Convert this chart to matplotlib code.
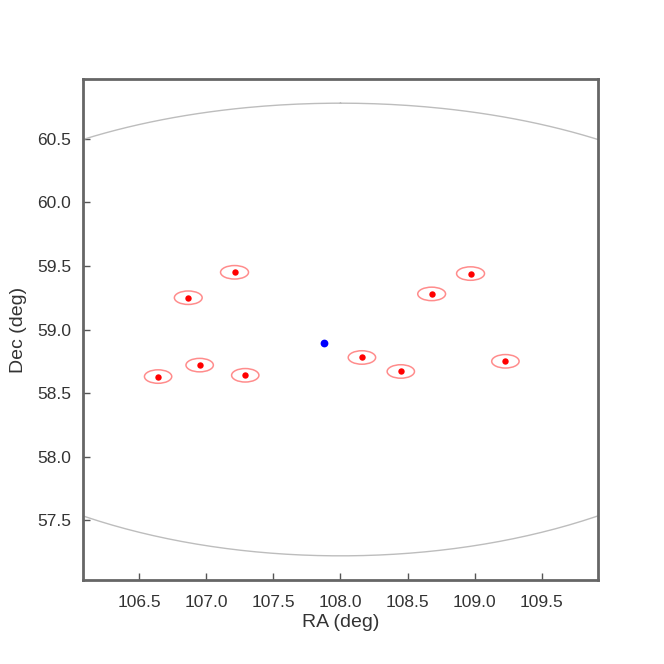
import numpy as np
import matplotlib.pyplot as plt
from matplotlib.patches import Ellipse

plt.rcParams['font.family'] = ['Liberation Sans', 'DejaVu Sans']

# pointing centre and field radius (deg)
field_ra, field_dec, field_r = 108.0, 59.0, 1.78

# target (blue)
target_ra = [107.88]
target_dec = [58.89]

# sources (red)
src_ra = [107.21, 106.865, 106.95, 106.64, 107.29, 108.16, 108.45, 108.68, 108.97, 109.23]
src_dec = [59.45, 59.25, 58.72, 58.63, 58.64, 58.78, 58.67, 59.28, 59.44, 58.75]
src_err = 0.053  # error radius (deg)

xticks = [106.5, 107.0, 107.5, 108.0, 108.5, 109.0, 109.5]
yticks = [57.5, 58.0, 58.5, 59.0, 59.5, 60.0, 60.5]

fig = plt.figure(figsize=(6.64, 6.64), dpi=100)
ax = fig.add_axes([0.125, 0.1265, 0.7755, 0.7545])

# field circle on the sky
th = np.linspace(0, 2 * np.pi, 721)
d0, r = np.radians(field_dec), np.radians(field_r)
dec = np.arcsin(np.sin(d0) * np.cos(r) + np.cos(d0) * np.sin(r) * np.cos(th))
dra = np.arctan2(np.sin(th) * np.sin(r) * np.cos(d0), np.cos(r) - np.sin(d0) * np.sin(dec))
ax.plot(field_ra + np.degrees(dra), np.degrees(dec), color='#bdbdbd', lw=1)

# error ellipses
for ra, de in zip(src_ra, src_dec):
    w = 2 * src_err / np.cos(np.radians(de))
    ax.add_patch(Ellipse((ra, de), w, 2 * src_err, fill=False,
                         edgecolor='#ff7070', lw=1.1, alpha=0.8))

ax.plot(src_ra, src_dec, 'o', color='red', ms=4.6, mec='none')
ax.plot(target_ra, target_dec, 'o', color='blue', ms=5.6, mec='none')

ax.set_xlim(106.08, 109.92)
ax.set_ylim(57.03, 60.97)
ax.set_xticks(xticks)
ax.set_yticks(yticks)
ax.tick_params(direction='in', length=5, width=1, colors='#555555',
               labelcolor='#333333', labelsize=12.5, pad=8.5)
ax.tick_params(axis='x', pad=11)
for s in ax.spines.values():
    s.set_color('#666666')
    s.set_linewidth(2)
ax.set_xlabel('RA (deg)', fontsize=14, color='#333333', labelpad=3)
ax.set_ylabel('Dec (deg)', fontsize=14, color='#333333', labelpad=7)

plt.savefig('out.png', dpi=100, facecolor='white')
